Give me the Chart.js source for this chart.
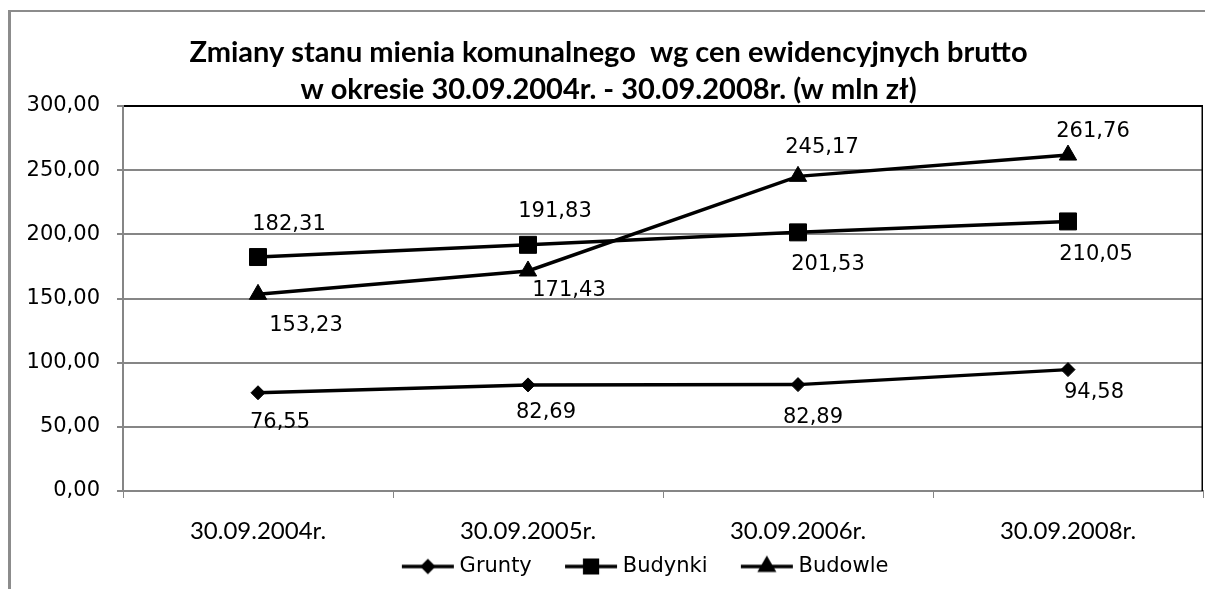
<!DOCTYPE html>
<html><head><meta charset="utf-8">
<script src="https://cdn.jsdelivr.net/npm/chart.js@4/dist/chart.umd.min.js"></script>
<style>html,body{margin:0;padding:0;background:#fff;overflow:hidden}#wrap{width:1205px;height:589px;position:relative}</style>
</head><body><div id="wrap"><canvas id="c" width="1205" height="589"></canvas></div>
<script>
const categories = ['30.09.2004r.', '30.09.2005r.', '30.09.2006r.', '30.09.2008r.'];
const grunty = [76.55, 82.69, 82.89, 94.58];
const budynki = [182.31, 191.83, 201.53, 210.05];
const budowle = [153.23, 171.43, 245.17, 261.76];
const seriesNames = ['Grunty', 'Budynki', 'Budowle'];
const yTicks = [0, 50, 100, 150, 200, 250, 300];
const titleLines = ['Zmiany stanu mienia komunalnego  wg cen ewidencyjnych brutto', 'w okresie 30.09.2004r. - 30.09.2008r. (w mln zł)'];

// label placement (pixel offsets from each point), styling only
const labelOffsets = [
  [[22, 30], [18, 28], [15, 33], [26, 23]],
  [[31, -32], [27, -33], [30, 32], [28, 33]],
  [[48, 31], [41, 20], [24, -29], [25, -24]]
];
const markerStyles = [
  { style: 'rectRot', radius: 7 },
  { style: 'rect', radius: 12 },
  { style: 'triangle', radius: 10 }
];

const FONT = 'DejaVu Sans';
const fmt = v => v.toFixed(2).replace('.', ',');
const ICON_BOX = 70.5, ICON_W = 81.5, ICON_LINE = 54;

function makeIcon(m) {
  const w = Math.round(ICON_W), h = 24;
  const c = document.createElement('canvas');
  c.width = w; c.height = h;
  const g = c.getContext('2d');
  const x0 = w - ICON_LINE;
  g.strokeStyle = '#000'; g.lineWidth = 3.5;
  g.beginPath(); g.moveTo(x0 + 1, h / 2); g.lineTo(w - 1, h / 2); g.stroke();
  g.fillStyle = '#000';
  Chart.helpers.drawPoint(g, { pointStyle: m.style, radius: m.radius * 0.75, borderWidth: 1 }, x0 + ICON_LINE / 2, h / 2);
  g.fill();
  return c;
}

const seriesData = [grunty, budynki, budowle];
const datasets = seriesData.map((d, i) => ({
  label: seriesNames[i],
  data: d,
  borderColor: '#000',
  backgroundColor: '#000',
  borderWidth: 3.5,
  tension: 0,
  pointStyle: markerStyles[i].style,
  pointRadius: markerStyles[i].radius,
  pointBackgroundColor: '#000',
  pointBorderColor: '#000',
  pointBorderWidth: 1,
  clip: false
}));

const framePlugin = {
  id: 'frame',
  afterLayout(chart) {
    if (chart.legend) { chart.legend.left += 32; chart.legend.right += 32; }
    if (chart.titleBlock) { chart.titleBlock.left += 7; chart.titleBlock.right += 7; }
  },
  beforeDraw(chart) {
    const ctx = chart.ctx;
    ctx.save();
    ctx.fillStyle = '#fff';
    ctx.fillRect(0, 0, chart.width, chart.height);
    ctx.strokeStyle = '#8c8c8c';
    ctx.lineWidth = 3;
    ctx.beginPath(); ctx.moveTo(9.5, 10); ctx.lineTo(9.5, chart.height); ctx.stroke();
    ctx.lineWidth = 2;
    ctx.beginPath(); ctx.moveTo(8, 11); ctx.lineTo(chart.width, 11); ctx.stroke();
    ctx.restore();
  },
  beforeDatasetsDraw(chart) {
    const a = chart.chartArea, ctx = chart.ctx;
    ctx.save();
    ctx.strokeStyle = '#000'; ctx.lineWidth = 1.5;
    ctx.beginPath(); ctx.moveTo(a.right - 0.75, a.top); ctx.lineTo(a.right - 0.75, a.bottom); ctx.stroke();
    ctx.restore();
  }
};

const labelPlugin = {
  id: 'vlabels',
  afterDatasetsDraw(chart) {
    const ctx = chart.ctx;
    ctx.save();
    ctx.font = '21px "' + FONT + '"';
    ctx.fillStyle = '#000';
    ctx.textAlign = 'center';
    ctx.textBaseline = 'middle';
    chart.data.datasets.forEach((ds, i) => {
      chart.getDatasetMeta(i).data.forEach((pt, j) => {
        const o = labelOffsets[i][j];
        ctx.fillText(fmt(ds.data[j]), pt.x + o[0], pt.y + o[1]);
      });
    });
    ctx.restore();
  }
};

new Chart(document.getElementById('c'), {
  type: 'line',
  data: { labels: categories, datasets },
  options: {
    responsive: false,
    animation: false,
    events: [],
    layout: { autoPadding: false, padding: { left: 0, right: 2, top: 0, bottom: 2 } },
    plugins: {
      title: {
        display: true,
        text: titleLines,
        color: '#000',
        font: { family: 'Lato', weight: 'bold', size: 29, lineHeight: '37px' },
        padding: { top: 34, bottom: -2 }
      },
      legend: {
        position: 'bottom',
        labels: {
          usePointStyle: true,
          pointStyleWidth: ICON_BOX,
          color: '#000',
          padding: 10,
          font: { family: FONT, size: 21 },
          generateLabels(chart) {
            return chart.data.datasets.map((ds, i) => ({
              text: ds.label,
              pointStyle: makeIcon(markerStyles[i]),
              fillStyle: '#000', strokeStyle: '#000', lineWidth: 0,
              hidden: false, datasetIndex: i, fontColor: '#000'
            }));
          }
        }
      },
      tooltip: { enabled: false }
    },
    scales: {
      x: {
        offset: true,
        afterFit: s => { s.height = 55; s.paddingLeft = 0; s.paddingRight = 0; },
        grid: { offset: true, drawOnChartArea: false, tickLength: 7, color: '#868686', lineWidth: 1 },
        border: { color: '#868686', width: 2 },
        ticks: { font: { family: 'Lato', size: 24 }, color: '#000', padding: 19, maxRotation: 0 }
      },
      y: {
        min: 0, max: 300,
        afterBuildTicks: s => { s.ticks = yTicks.map(v => ({ value: v })); },
        afterFit: s => { s.width = 123; },
        ticks: { callback: v => fmt(v), font: { family: FONT, size: 21 }, color: '#000', padding: 17 },
        grid: {
          color: c => (c.tick && c.tick.value === 300) ? '#000' : '#868686',
          lineWidth: 2, tickLength: 6, tickColor: '#868686'
        },
        border: { color: '#868686', width: 2 }
      }
    }
  },
  plugins: [framePlugin, labelPlugin]
});
</script>
</body></html>
